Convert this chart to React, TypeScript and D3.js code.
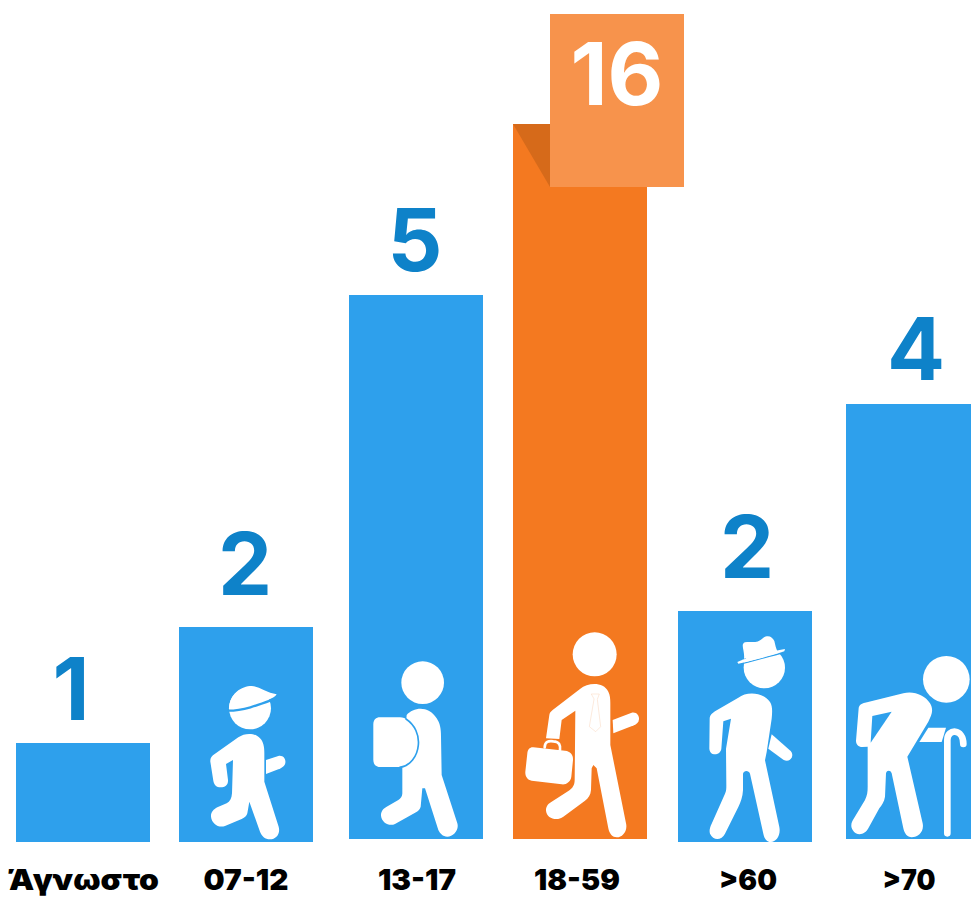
import * as d3 from "d3";
import { useEffect, useRef } from "react";

const categories = ["Άγνωστο", "07-12", "13-17", "18-59", ">60", ">70"];
const values = [1, 2, 5, 16, 2, 4];

const WIDTH = 971;
const HEIGHT = 899;
const BLUE = "#2ea0ec";
const ORANGE = "#f47920";
const NUMBER_BLUE = "#0e82c9";
const FONT = "Inter, 'Noto Sans', sans-serif";

// the picture is hand laid out, so the bars do not sit on one exact grid
const barNudgeX = [0, -3, 1, -1, -2, 0];
const barBottom = [842, 842, 839, 839, 842, 839];
const barNudgeTop = [0, 0, 0, 0, -16, 0];
const numberNudgeX = [-12, -1, -1, 0, 2, 3];
const numberGap = [23, 32, 24, 0, 33, 24];
const tickNudgeX = [1, 0, 1, -3, 3, -4];
const tickWidth = [150, 85, 78, 86, 58, 53];

// icons are in 3x pixels, measured from the left/bottom corner of their bar
type Icon = {
  origin: [number, number];
  heads: [number, number, number][];
  fills: string[];
  strokes: { d: string; color: string; width: number }[];
  top?: string[];
  holes?: string[];
};

const icons: (Icon | null)[] = [
  null,
  {
    origin: [27, 576],
    heads: [[240, 175, 63]],
    fills: [
      "M205,262C225,248 255,248 270,265C280,275 283,290 283,310L283,395L326,530C332,552 318,568 300,568C285,568 275,558 270,545L238,455L232,490C230,498 225,503 215,507L165,528C145,535 125,520 123,500C122,488 130,478 142,472L170,460C180,455 185,445 186,430L189,330L168,342L174,390C175,405 165,412 152,412C140,412 132,405 130,392L121,335C120,325 125,318 133,313Z",
      "M288,330L325,318C340,315 348,328 346,338C345,348 335,354 325,358L288,372Z",
      "M177,178C178,130 215,108 245,108C265,108 290,128 320,133C310,148 290,150 270,155C240,170 210,175 177,178Z",
    ],
    strokes: [{ d: "M175,182C220,182 265,165 305,150", color: BLUE, width: 7 }],
  },
  {
    origin: [537, 567],
    heads: [[758, 98, 64]],
    fills: [
      "M710,195C730,172 775,165 800,205C810,220 813,235 813,260L815,375L862,520C868,540 850,560 832,560C818,560 810,550 805,540L765,415L757,415L752,470C750,478 745,483 738,487L675,522C658,530 635,518 633,497C632,485 640,475 650,470L685,450C692,445 697,440 697,430L697,350Z",
      "M630,202L690,202C725,205 745,240 745,280C745,320 725,350 685,351L630,351C615,351 610,340 610,330L610,222C610,210 618,202 630,202Z",
    ],
    strokes: [{ d: "M708,207C735,225 748,255 745,285C742,320 720,348 690,352", color: BLUE, width: 5 }],
  },
  {
    origin: [39, 657],
    heads: [[284, 103, 66]],
    fills: [
      "M240,207C265,187 310,185 325,215C330,225 331,235 331,250L331,375L378,610C384,635 365,653 350,652C338,652 328,642 325,625L290,445L280,435L275,445L273,510C272,525 265,535 255,542L190,590C170,605 140,595 138,572C137,560 145,550 155,545L205,513C218,505 224,495 224,480L226,272L185,300L178,357L138,355L148,285C149,278 152,275 158,270Z",
      "M338,300L395,278C410,275 418,287 417,298C416,308 410,312 402,316L340,340Z",
      "M100,382L195,392C212,394 220,405 219,420L214,470C212,485 198,495 185,493L95,482C82,480 75,468 76,455L82,400C83,388 90,381 100,382Z",
    ],
    strokes: [
      { d: "M134,382C135,365 145,362 160,364C178,365 182,375 180,390", color: "#fff", width: 8 },
      { d: "M275,222L298,222L292,238L302,320L287,335L268,320L282,238Z", color: "#f8d5bb", width: 1.5 },
    ],
  },
  {
    origin: [24, 665],
    heads: [[283, 142, 62]],
    fills: [
      "M205,232C230,212 280,215 300,245C308,258 307,275 305,295L290,395L285,420L328,620C333,645 318,665 303,665C290,665 283,655 280,640L240,460C237,450 222,448 219,460L219,510C218,530 212,545 205,560L165,640C155,660 130,662 120,640C117,630 120,620 125,610L165,520C169,513 169,505 169,495L168,385L183,295L160,303L154,385C152,405 120,410 118,385L119,295C119,285 127,278 135,273Z",
      "M305,342L362,392C375,405 360,430 340,418L295,385Z",
    ],
    strokes: [{ d: "M205,133C250,120 300,108 345,95", color: BLUE, width: 4 }],
    top: [
      "M222,115C225,90 210,72 225,66C245,62 260,72 280,52C295,42 308,50 313,62C316,75 318,85 322,92Z",
      "M202,125C240,108 300,95 345,86L343,93C300,108 240,122 205,130Z",
    ],
  },
  {
    origin: [528, 657],
    heads: [[829, 178, 70]],
    fills: [
      "M585,248L700,220C730,212 765,225 780,250C792,270 785,285 775,305L712,410L758,610C763,635 745,652 725,652C712,652 703,640 700,625L665,460C662,450 650,450 648,460L645,530C643,545 635,555 628,565L595,625C585,645 560,650 548,630C540,618 545,605 552,595L585,540C592,525 593,515 593,500L593,380L577,381C565,381 558,372 558,362L566,265C567,255 575,250 585,248Z",
      "M775,323L828,323L815,366L748,366Z",
    ],
    strokes: [
      { d: "M832,640L832,360C832,325 880,325 880,372", color: "#fff", width: 20 },
    ],
    holes: ["M607,288L665,275L602,368Z"],
  },
];

const App = () => {
  const ref = useRef<SVGSVGElement | null>(null);

  useEffect(() => {
    if (!ref.current) return;
    const svg = d3.select(ref.current);
    svg.selectAll("*").remove();

    const x = d3.scaleBand<string>()
      .domain(categories)
      .range([16, 980])
      .paddingInner(32 / 166);

    // the bars are not to scale in the original, each count has its own height
    const y = d3.scaleLinear()
      .domain([0, 1, 2, 4, 5, 16])
      .range([842, 743, 627, 404, 295, 124]);

    const barX = (i: number) => x(categories[i])! + barNudgeX[i];
    const barTop = (i: number) => y(values[i]) + barNudgeTop[i];
    const isPeak = (i: number) => values[i] === d3.max(values);

    // Bars
    svg.selectAll(".bar")
      .data(values)
      .join("rect")
      .attr("class", "bar")
      .attr("x", (_, i) => barX(i))
      .attr("y", (_, i) => barTop(i))
      .attr("width", x.bandwidth())
      .attr("height", (_, i) => barBottom[i] - barTop(i))
      .attr("fill", (_, i) => (isPeak(i) ? ORANGE : BLUE));

    // Folded flag on the tallest bar
    const peak = values.findIndex((_, i) => isPeak(i));
    const flagX = barX(peak) + 37;
    const flagH = 173;
    svg.append("path")
      .attr("d", `M${barX(peak)},${barTop(peak)}H${flagX}V${barTop(peak) + 63}Z`)
      .attr("fill", "#d66a1a");
    svg.append("rect")
      .attr("x", flagX)
      .attr("y", barTop(peak) + 63 - flagH)
      .attr("width", x.bandwidth())
      .attr("height", flagH)
      .attr("fill", "#f7934c");

    // Numbers
    svg.selectAll(".number")
      .data(values)
      .join("text")
      .attr("class", "number")
      .attr("x", (_, i) => (isPeak(i) ? flagX + x.bandwidth() / 2 : barX(i) + x.bandwidth() / 2 + numberNudgeX[i]))
      .attr("y", (_, i) => (isPeak(i) ? barTop(i) - 19 : barTop(i) - numberGap[i]))
      .attr("text-anchor", "middle")
      .attr("font-family", FONT)
      .attr("font-weight", 700)
      .attr("font-size", 86)
      .attr("fill", (_, i) => (isPeak(i) ? "#fff" : NUMBER_BLUE))
      .text(d => d);

    // Category labels
    const axis = svg.append("g")
      .attr("transform", "translate(0,890)")
      .call(d3.axisBottom(x).tickSize(0).tickPadding(0));
    axis.select(".domain").remove();
    axis.selectAll<SVGTextElement, string>(".tick text")
      .attr("dy", 0)
      .attr("y", 0)
      .attr("x", (_, i) => barNudgeX[i] + tickNudgeX[i])
      .attr("text-anchor", "middle")
      .attr("font-family", FONT)
      .attr("font-weight", 900)
      .attr("font-size", 29)
      .attr("textLength", (_, i) => tickWidth[i])
      .attr("lengthAdjust", "spacingAndGlyphs")
      .attr("fill", "#000");

    // Walking figures
    icons.forEach((icon, i) => {
      if (!icon) return;
      const g = svg.append("g")
        .attr("transform", `translate(${barX(i) - icon.origin[0] / 3},${barBottom[i] - icon.origin[1] / 3}) scale(${1 / 3})`);
      icon.heads.forEach(([cx, cy, r]) => {
        g.append("circle").attr("cx", cx).attr("cy", cy).attr("r", r).attr("fill", "#fff");
      });
      icon.fills.forEach(d => {
        g.append("path").attr("d", d).attr("fill", "#fff");
      });
      icon.strokes.forEach(s => {
        g.append("path")
          .attr("d", s.d)
          .attr("fill", "none")
          .attr("stroke", s.color)
          .attr("stroke-width", s.width)
          .attr("stroke-linecap", "round");
      });
      (icon.top ?? []).forEach(d => {
        g.append("path").attr("d", d).attr("fill", "#fff");
      });
      // gap between the bent arm and the body
      (icon.holes ?? []).forEach(d => {
        g.append("path").attr("d", d).attr("fill", BLUE);
      });
    });
  }, []);

  return (
    <svg
      ref={ref}
      width={WIDTH}
      height={HEIGHT}
      style={{ position: "absolute", left: 0, top: 0, background: "#fff" }}
    />
  );
};

export default App;
